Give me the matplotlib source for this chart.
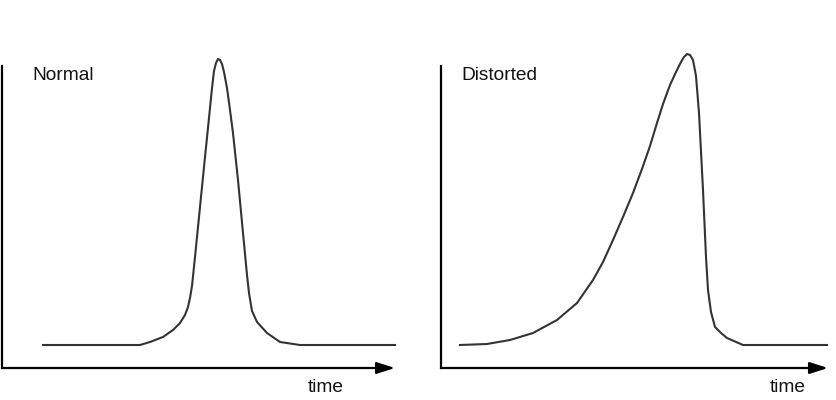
import matplotlib
matplotlib.use("Agg")
import matplotlib.pyplot as plt

plt.rcParams['font.family'] = ['Liberation Sans', 'DejaVu Sans']

# Data (time, signal), in axis pixel units
normal_t = [41, 138, 148, 161, 171, 178, 183, 186, 188, 190, 193, 198, 203, 207,
            210, 212, 214, 216, 218, 220, 222, 225, 228, 231, 236, 241, 245, 247,
            250, 255, 265, 278, 298, 393]
normal_v = [23, 23, 26, 31, 38, 45, 53, 61, 70, 82, 111, 161, 211, 250,
            280, 297, 305, 309, 308, 304, 296, 280, 258, 235, 188, 135, 93, 75,
            57, 46, 35, 26, 23, 23]

dist_t = [19, 46, 69, 92, 116, 136, 152, 162, 172, 182, 192, 201, 209, 216,
          222, 229, 236, 240, 243, 246, 249, 252, 255, 258, 262, 265, 267,
          270, 274, 280, 286, 302, 386]
dist_v = [23, 24, 28, 35, 48, 65, 88, 106, 128, 151, 175, 199, 222, 245,
          264, 283, 298, 306, 311, 314, 313, 308, 292, 255, 178, 111, 78,
          56, 41, 35, 30, 23, 23]

titles = ["Normal", "Distorted"]
xlabel = "time"

W, H = 837, 400
fig = plt.figure(figsize=(W / 100, H / 100), dpi=100)

# axes positions in pixels: left, right (arrow tip), bottom, top
panels = [
    (2, 395, 368, 66, normal_t, normal_v, titles[0], 32, 308),
    (441, 828, 368, 66, dist_t, dist_v, titles[1], 461, 770),
]

for (l, r, b, t, xs, ys, title, tx, lx) in panels:
    ax = fig.add_axes([l / W, (H - b) / H, (r - l) / W, (b - t) / H])
    ax.set_xlim(0, r - l)
    ax.set_ylim(0, b - t)
    ax.plot(xs, ys, color='#333333', lw=1.5, solid_joinstyle='round',
            clip_on=False)
    for s in ['top', 'right', 'bottom']:
        ax.spines[s].set_visible(False)
    ax.spines['left'].set_linewidth(1.6)
    ax.spines['left'].set_color('black')
    ax.set_xticks([])
    ax.set_yticks([])
    ax.patch.set_alpha(0)
    ax.annotate('', xy=(1, 0), xytext=(0, 0), xycoords='axes fraction',
                textcoords='axes fraction',
                arrowprops=dict(arrowstyle='-|>,head_length=1.1,head_width=0.35',
                                color='black', lw=1.6, shrinkA=0, shrinkB=0),
                annotation_clip=False)
    ax.text((tx - l) / (r - l), (b - 76) / (b - t), title, transform=ax.transAxes,
            fontsize=13.8, ha='left', va='center', color='#111111')
    ax.text((lx - l) / (r - l), (b - 387) / (b - t), xlabel, transform=ax.transAxes,
            fontsize=13.8, ha='left', va='center', color='#111111', clip_on=False)

fig.savefig('out.png', dpi=100)
